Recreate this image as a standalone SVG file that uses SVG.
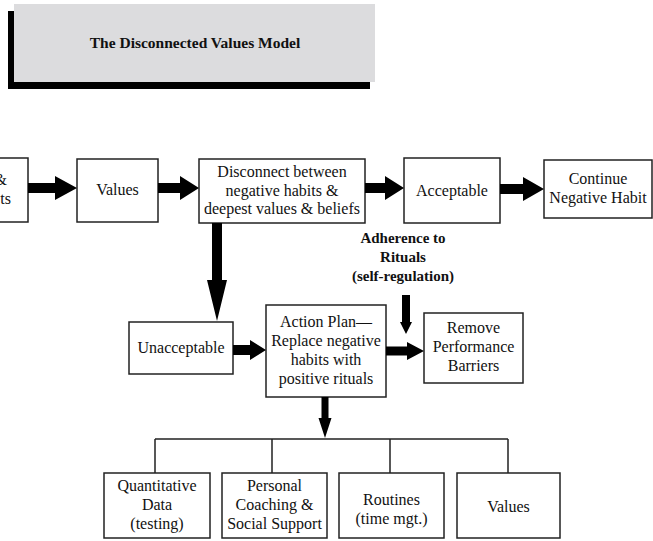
<svg xmlns="http://www.w3.org/2000/svg" width="653" height="541" viewBox="0 0 653 541" font-family="'Liberation Serif', Tinos, 'Times New Roman', 'DejaVu Serif', serif">
<style>
.box{fill:#fff;stroke:#222;stroke-width:1.5}
.t{font-family:'Liberation Serif',Tinos,'Times New Roman','DejaVu Serif',serif;font-size:16px;fill:#111;text-anchor:middle}
.b{font-family:'Liberation Serif',Tinos,'Times New Roman','DejaVu Serif',serif;font-size:15px;font-weight:bold;fill:#111;text-anchor:middle}
.arr{fill:#000}
.ln{stroke:#222;stroke-width:1.5;fill:none}
</style>
<rect width="653" height="541" fill="#fff"/>
<g id="title">
<rect x="8" y="11" width="362" height="78" fill="#000"/>
<rect x="14" y="4" width="361" height="78" fill="#dcdcde"/>
<text x="195" y="48" class="t" style="font-weight:bold;font-size:15.5px">The Disconnected Values Model</text>
</g>
<g id="n0">
<rect x="-70" y="158" width="98" height="64" class="box"/>
<text x="7" y="185" class="t" style="text-anchor:end">&amp;</text>
<text x="11" y="204" class="t" style="text-anchor:end">ts</text>
</g>
<g id="values1">
<rect x="77" y="159" width="81" height="63" class="box"/>
<text x="117.5" y="195" class="t">Values</text>
</g>
<g id="disconnect">
<rect x="199" y="159" width="166" height="64" class="box"/>
<text x="282" y="177" class="t">Disconnect between</text>
<text x="282" y="196" class="t">negative habits &amp;</text>
<text x="282" y="214" class="t">deepest values &amp; beliefs</text>
</g>
<g id="acceptable">
<rect x="404" y="158" width="96" height="65" class="box"/>
<text x="452" y="196" class="t">Acceptable</text>
</g>
<g id="continue">
<rect x="544" y="160" width="108" height="58" class="box"/>
<text x="598" y="184" class="t">Continue</text>
<text x="598" y="203" class="t">Negative Habit</text>
</g>
<g id="adherence">
<text x="403" y="243" class="b">Adherence to</text>
<text x="403" y="262" class="b">Rituals</text>
<text x="403" y="281" class="b">(self-regulation)</text>
</g>
<g id="unacceptable">
<rect x="129" y="322" width="104" height="52" class="box"/>
<text x="181" y="353" class="t">Unacceptable</text>
</g>
<g id="action">
<rect x="266" y="305" width="120" height="92" class="box"/>
<text x="326" y="327" class="t">Action Plan—</text>
<text x="326" y="346" class="t">Replace negative</text>
<text x="326" y="365" class="t">habits with</text>
<text x="326" y="384" class="t">positive rituals</text>
</g>
<g id="remove">
<rect x="424" y="313" width="99" height="70" class="box"/>
<text x="473.5" y="333" class="t">Remove</text>
<text x="473.5" y="352" class="t">Performance</text>
<text x="473.5" y="371" class="t">Barriers</text>
</g>
<g id="quant">
<rect x="104" y="473" width="106" height="65" class="box"/>
<text x="157" y="491" class="t">Quantitative</text>
<text x="157" y="510" class="t">Data</text>
<text x="157" y="529" class="t">(testing)</text>
</g>
<g id="coaching">
<rect x="222" y="473" width="105" height="65" class="box"/>
<text x="274.5" y="491" class="t">Personal</text>
<text x="274.5" y="510" class="t">Coaching &amp;</text>
<text x="274.5" y="529" class="t">Social Support</text>
</g>
<g id="routines">
<rect x="339" y="473" width="105" height="65" class="box"/>
<text x="391.5" y="505" class="t">Routines</text>
<text x="391.5" y="524" class="t">(time mgt.)</text>
</g>
<g id="values2">
<rect x="457" y="473" width="103" height="65" class="box"/>
<text x="508.5" y="512" class="t">Values</text>
</g>
<g id="connectors">
<polygon class="arr" points="28,183 55,183 55,176 77,188 55,200 55,193 28,193"/>
<polygon class="arr" points="158,183 180,183 180,176 199,188 180,200 180,193 158,193"/>
<polygon class="arr" points="365,183 385,183 385,176 404,188 385,200 385,193 365,193"/>
<polygon class="arr" points="500,184 523,184 523,177 544,189 523,201 523,194 500,194"/>
<polygon class="arr" points="212,223 222,223 222,280 227,280 217,321 207,280 212,280"/>
<polygon class="arr" points="233,345 250,345 250,340 266,350 250,360 250,355 233,355"/>
<polygon class="arr" points="386,346.5 407,346.5 407,342 424,351 407,360 407,355.5 386,355.5"/>
<polygon class="arr" points="402,295 410,295 410,322 412,322 406,334 400,322 402,322"/>
<polygon class="arr" points="321.5,397 328.5,397 328.5,418 331.5,418 325,438 318.5,418 321.5,418"/>
<path class="ln" d="M155,439 H508 M155,439 V473 M272,439 V473 M390,439 V473 M508,439 V473"/>
</g>
</svg>
